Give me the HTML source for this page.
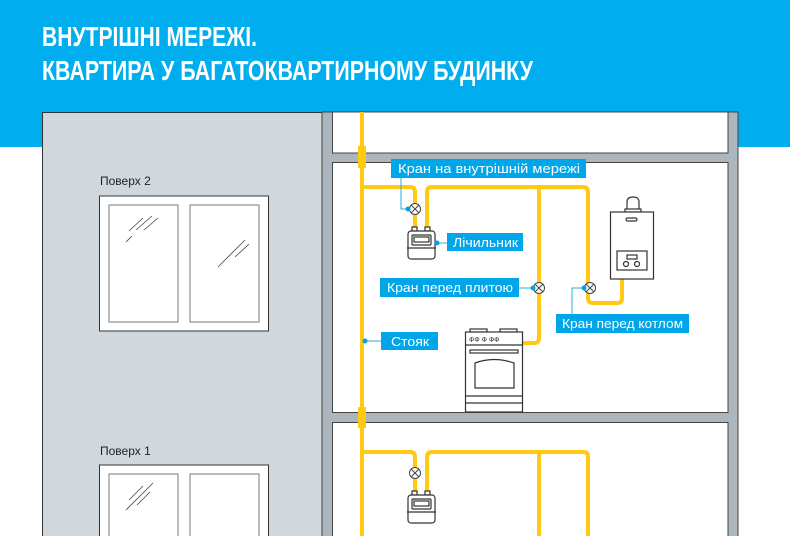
<!DOCTYPE html>
<html><head><meta charset="utf-8"><style>
html,body{margin:0;padding:0;background:#fff;}
svg{display:block;}
text{font-family:"Liberation Sans",sans-serif;}
</style></head><body>
<svg width="790" height="536" viewBox="0 0 790 536" xmlns="http://www.w3.org/2000/svg">
<rect x="0" y="0" width="790" height="147" fill="#00adee"/>
<text x="42" y="46" fill="#fff" font-weight="bold" font-size="28" textLength="215" lengthAdjust="spacingAndGlyphs">ВНУТРІШНІ МЕРЕЖІ.</text>
<text x="42" y="80" fill="#fff" font-weight="bold" font-size="28" textLength="491" lengthAdjust="spacingAndGlyphs">КВАРТИРА У БАГАТОКВАРТИРНОМУ БУДИНКУ</text>

<!-- left facade -->
<rect x="42.5" y="112.5" width="280" height="430" fill="#d0d8de" stroke="#333" stroke-width="1"/>
<!-- right structure -->
<rect x="322" y="112" width="416" height="430" fill="#adb6bc" stroke="#444" stroke-width="1"/>
<rect x="332.5" y="112" width="395.5" height="41" fill="#fff" stroke="#444" stroke-width="1"/>
<rect x="332.5" y="162.5" width="395.5" height="250" fill="#fff" stroke="#444" stroke-width="1"/>
<rect x="332.5" y="422.5" width="395.5" height="130" fill="#fff" stroke="#444" stroke-width="1"/>

<!-- windows -->
<text x="100" y="185" font-size="12" fill="#222">Поверх 2</text>
<rect x="99.5" y="196" width="169" height="135" fill="#fff" stroke="#333" stroke-width="1"/>
<rect x="109" y="205" width="69" height="117" fill="#fff" stroke="#777" stroke-width="1"/>
<rect x="190" y="205" width="69" height="117" fill="#fff" stroke="#777" stroke-width="1"/>
<g stroke="#444" stroke-width="0.8">
<line x1="129" y1="231" x2="143" y2="218"/><line x1="136" y1="230" x2="152" y2="216"/><line x1="144" y1="230" x2="158" y2="218"/><line x1="126" y1="242" x2="132" y2="236"/>
<line x1="218" y1="267" x2="245" y2="240"/><line x1="235" y1="257" x2="249" y2="244"/>
</g>
<text x="100" y="455" font-size="12" fill="#222">Поверх 1</text>
<rect x="99.5" y="465" width="169" height="80" fill="#fff" stroke="#333" stroke-width="1"/>
<rect x="109" y="474" width="69" height="80" fill="#fff" stroke="#777" stroke-width="1"/>
<rect x="190" y="474" width="69" height="80" fill="#fff" stroke="#777" stroke-width="1"/>
<g stroke="#444" stroke-width="0.8">
<line x1="126" y1="510" x2="153" y2="483"/><line x1="137" y1="505" x2="150" y2="492"/><line x1="129" y1="500" x2="143" y2="486"/>
</g>

<!-- pipes -->
<g fill="none" stroke="#ffc914" stroke-width="4" stroke-linejoin="round">
<line x1="362" y1="112" x2="362" y2="536"/>
<path d="M362 187 H410 Q415 187 415 192 V229"/>
<path d="M427 229 V192 Q427 187 432 187 H583 Q588 187 588 192 V298 Q588 303 593 303 H617 Q622 303 622 298 V279"/>
<line x1="539" y1="187" x2="539" y2="338"/>
<path d="M539 338 Q539 343 534 343 H523"/>
<path d="M362 452 H410 Q415 452 415 457 V493"/>
<path d="M427 493 V457 Q427 452 432 452 H583 Q588 452 588 457 V536"/>
<line x1="539" y1="452" x2="539" y2="536"/>
</g>
<rect x="358" y="146" width="8" height="22" fill="#ffc914"/>
<rect x="358" y="407" width="8" height="21" fill="#ffc914"/>

<!-- valves -->
<g fill="#fff" stroke="#444" stroke-width="1">
<circle cx="415" cy="209" r="5.5"/><circle cx="539" cy="288" r="5.5"/><circle cx="590" cy="288" r="5.5"/><circle cx="415" cy="473" r="5.5"/>
</g>
<g stroke="#444" stroke-width="1">
<path d="M411 205 L419 213 M419 205 L411 213"/>
<path d="M535 284 L543 292 M543 284 L535 292"/>
<path d="M586 284 L594 292 M594 284 L586 292"/>
<path d="M411 469 L419 477 M419 469 L411 477"/>
</g>

<!-- meters -->
<g id="m" fill="#fff" stroke="#333" stroke-width="1.2">
<rect x="412" y="227" width="5" height="4"/><rect x="425" y="227" width="5" height="4"/>
<rect x="408" y="231" width="27" height="28" rx="3"/>
<line x1="407" y1="248" x2="436" y2="248"/>
<rect x="412" y="235" width="19" height="10" rx="1"/>
<rect x="414" y="237" width="15" height="5"/>
</g>
<use href="#m" transform="translate(0,264)"/>

<!-- boiler -->
<g fill="#fff" stroke="#333" stroke-width="1.2">
<path d="M627 210 V202 Q627 197 633 197 Q639 197 639 202 V210 Z"/>
<rect x="625" y="209" width="16" height="3"/>
<rect x="610.5" y="212" width="43" height="67"/>
<rect x="626" y="218" width="11" height="3" rx="1.5"/>
<rect x="617" y="251" width="30" height="19"/>
<rect x="627" y="255" width="10" height="4"/>
<circle cx="626" cy="264" r="2.5"/><circle cx="637" cy="264" r="2.5"/>
</g>

<!-- stove -->
<g fill="#fff" stroke="#333" stroke-width="1.2">
<rect x="470" y="329" width="17" height="3"/><rect x="500" y="329" width="17" height="3"/>
<rect x="465.5" y="332" width="57" height="80"/>
<line x1="465" y1="345" x2="523" y2="345"/>
<rect x="470" y="350" width="48" height="3"/>
<path d="M475 388 V363 Q494 356 514 363 V388 Z"/>
<line x1="465" y1="396" x2="523" y2="396"/>
<line x1="465" y1="403" x2="523" y2="403"/>
</g>
<g font-size="7" fill="#333"><text x="469" y="342">ФФ Ф ФФ</text></g>

<!-- leaders -->
<g stroke="#29abe2" stroke-width="1" fill="none">
<path d="M401 178 V209 H409"/>
<line x1="436" y1="243" x2="447" y2="243"/>
<line x1="519" y1="288" x2="533" y2="288"/>
<path d="M572 314 V288 H584"/>
<line x1="365" y1="341" x2="381" y2="341"/>
</g>
<g fill="#0b9ee0">
<circle cx="408" cy="209" r="2.5"/><circle cx="437" cy="243" r="2.5"/><circle cx="533" cy="288" r="2.5"/><circle cx="584" cy="288" r="2.5"/><circle cx="365" cy="341" r="2.5"/>
</g>

<!-- labels -->
<g fill="#00a6e8">
<rect x="391" y="159" width="195" height="19"/>
<rect x="447" y="233" width="76" height="18"/>
<rect x="380" y="278" width="139" height="19"/>
<rect x="556" y="314" width="133" height="19"/>
<rect x="381" y="332" width="57" height="18"/>
</g>
<g fill="#fff" font-size="12.5">
<text x="398" y="173" textLength="182" lengthAdjust="spacingAndGlyphs">Кран на внутрішній мережі</text>
<text x="453" y="247" textLength="65" lengthAdjust="spacingAndGlyphs">Лічильник</text>
<text x="387" y="292" textLength="126" lengthAdjust="spacingAndGlyphs">Кран перед плитою</text>
<text x="562" y="328" textLength="121" lengthAdjust="spacingAndGlyphs">Кран перед котлом</text>
<text x="391" y="346" textLength="38" lengthAdjust="spacingAndGlyphs">Стояк</text>
</g>
</svg>
</body></html>
